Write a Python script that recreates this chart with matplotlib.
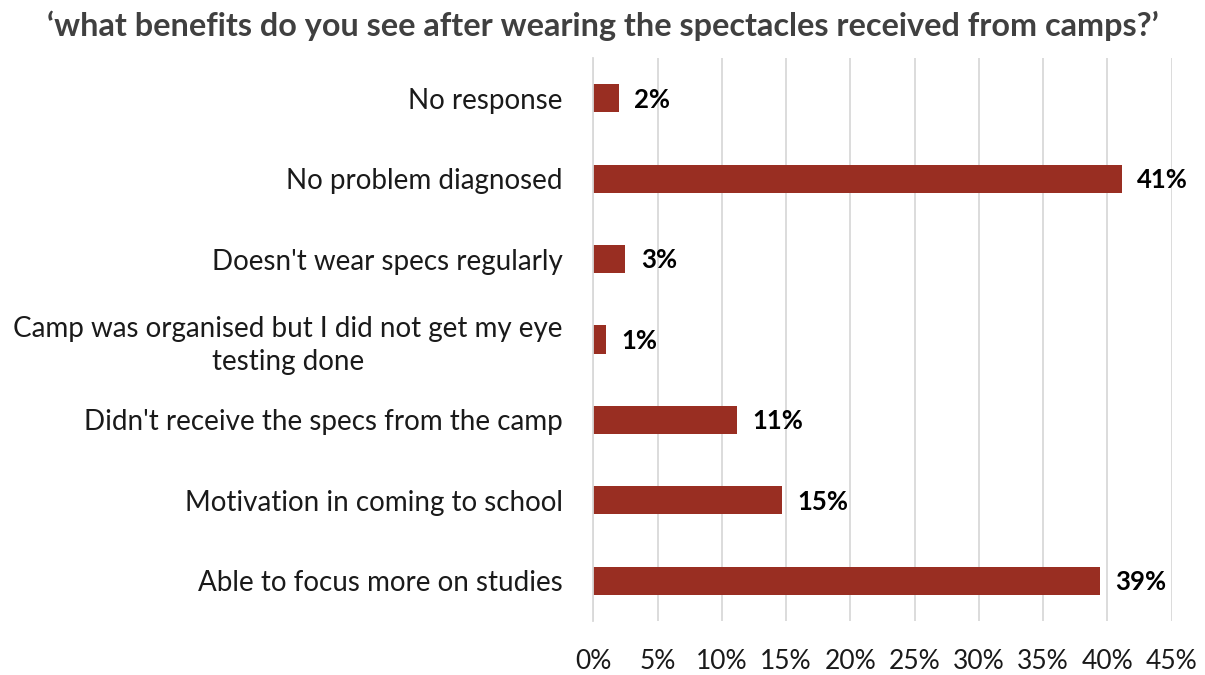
import matplotlib.pyplot as plt
from matplotlib.ticker import FuncFormatter

plt.rcParams['font.family'] = ['Lato', 'DejaVu Sans']

# Data, top to bottom as in the chart
categories = [
    "No response",
    "No problem diagnosed",
    "Doesn't wear specs regularly",
    "Camp was organised but I did not get my eye\ntesting done",
    "Didn't receive the specs from the camp",
    "Motivation in coming to school",
    "Able to focus more on studies",
]
values = [2.0, 41.1, 2.5, 1.0, 11.2, 14.7, 39.4]
value_labels = ["2%", "41%", "3%", "1%", "11%", "15%", "39%"]
x_ticks = [0, 5, 10, 15, 20, 25, 30, 35, 40, 45]

bar_color = "#992E22"

fig = plt.figure(figsize=(12.05, 6.75), dpi=100)
ax = fig.add_axes([0.4924, 0.08, 0.48, 0.834])

y = list(range(len(categories)))
ax.barh(y, values, height=0.35, color=bar_color)
ax.set_ylim(len(categories) - 0.5, -0.5)
ax.set_xlim(0, 45)

for yi, v, lab in zip(y, values, value_labels):
    ax.annotate(lab, (v, yi), xytext=(11, -1), textcoords="offset points",
                va="center", ha="left", fontsize=18.5, fontweight="bold",
                color="black")

ax.set_yticks(y)
ax.set_yticklabels(categories, fontsize=20, color="#1a1a1a",
                   multialignment="center", linespacing=1.35)
ax.tick_params(axis="y", length=0, pad=22)

ax.set_xticks(x_ticks)
ax.xaxis.set_major_formatter(FuncFormatter(lambda v, p: f"{v:.0f}%"))
ax.tick_params(axis="x", length=0, pad=20, labelsize=19, labelcolor="#1a1a1a")

ax.grid(axis="x", color="#d9d9d9", linewidth=1.3)
ax.set_axisbelow(True)
for s in ["top", "right", "bottom"]:
    ax.spines[s].set_visible(False)
ax.spines["left"].set_color("#d9d9d9")
ax.spines["left"].set_linewidth(1.3)

fig.text(0.5, 0.962, "\u2018what benefits do you see after wearing the spectacles received from camps?\u2019",
         ha="center", va="center", fontsize=23.3, fontweight="bold", color="#404040")

fig.savefig("out.png", dpi=100)
